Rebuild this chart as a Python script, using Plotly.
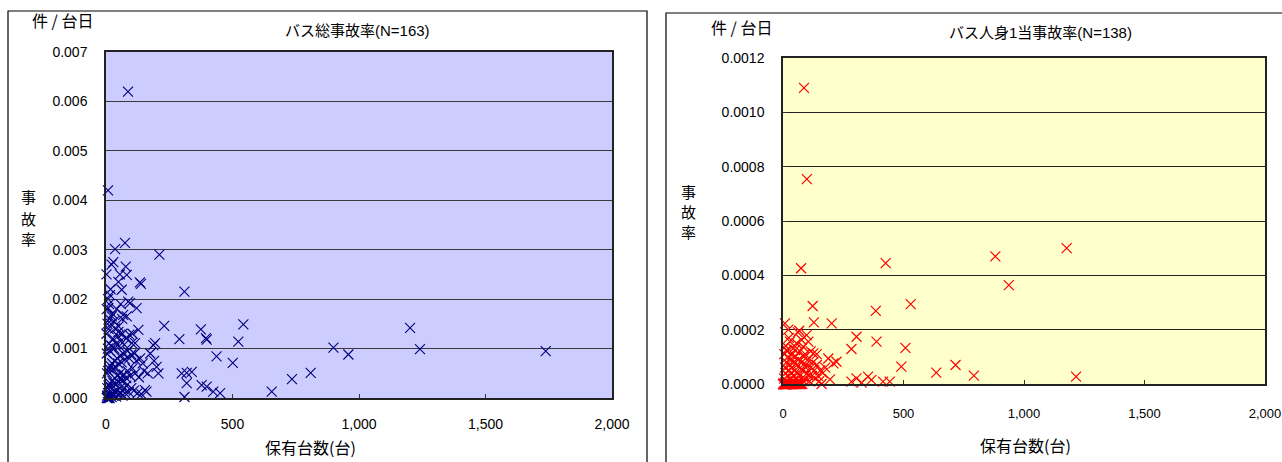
import plotly.graph_objects as go

W, H = 1282, 462

# ---------------- Data ----------------
# Left chart: バス総事故率 (N=163)  x = 保有台数, y = 件/台日
total_x = [
    87, 8, 75, 36, 211, 29, 78, 82, 49, 134, 138, 62, 310, 16, 88, 95, 121, 9, 68, 82,
    23, 230, 375, 543, 36, 49, 128, 395, 398, 290, 523, 102, 115, 194, 187, 437, 501, 200, 207, 299,
    319, 339, 319, 378, 398, 424, 451, 310, 655, 735, 154, 160, 809, 899, 958, 1202, 1241, 1738,
    3, 6, 10, 14, 4, 8, 12, 18, 22, 26, 30, 35, 40, 45, 50, 55, 60, 65, 70, 75, 80, 90, 100, 110, 125, 140,
    5, 10, 15, 20, 25, 30, 35, 40, 45, 50, 55, 60, 65, 70, 80, 85, 95, 105, 115, 130, 150, 165,
    4, 8, 12, 18, 24, 28, 33, 38, 44, 48, 55, 62, 68, 75, 85, 92, 100, 112, 120, 135, 145, 175, 190,
    3, 7, 12, 17, 22, 28, 33, 40, 47, 52, 58, 65, 72, 80, 92, 105,
    2, 6, 10, 14, 20, 26, 32, 42, 50, 58, 64, 3, 8, 12, 18, 2, 22, 55,
]
total_y = [
    0.0062, 0.0042, 0.00314, 0.00301, 0.0029, 0.00275, 0.00266, 0.00249, 0.00235, 0.00234,
    0.00231, 0.00219, 0.00215, 0.00208, 0.00195, 0.00192, 0.00182, 0.00182, 0.00168, 0.00165,
    0.00165, 0.00146, 0.00139, 0.00149, 0.00141, 0.00134, 0.00138, 0.00121, 0.00118, 0.00119,
    0.00114, 0.00111, 0.00111, 0.00111, 0.00107, 0.00084, 0.00071, 0.00063, 0.0005, 0.0005,
    0.00051, 0.00053, 0.0003, 0.00026, 0.00023, 0.00013, 0.0001, 0.00002, 0.00013, 0.00038,
    0.00016, 0.00013, 0.00051, 0.00102, 0.00088, 0.00142, 0.00099, 0.00095,
    0.0, 0.0, 0.0, 0.0, 0.00005, 0.0001, 0.00003, 0.00008, 0.00002, 0.0001, 0.00005, 0.00012, 0.00003,
    0.00015, 0.00008, 0.0002, 0.0001, 0.00005, 0.00018, 0.0001, 0.00025, 0.00012, 0.0002, 0.00015,
    0.0001, 0.00008,
    0.0002, 0.00025, 0.0003, 0.00022, 0.00035, 0.0003, 0.0004, 0.00028, 0.00045, 0.00032, 0.0005,
    0.0004, 0.00035, 0.00048, 0.0004, 0.00055, 0.00045, 0.0006, 0.0005, 0.00042, 0.00055, 0.0005,
    0.0005, 0.00055, 0.0006, 0.00065, 0.0007, 0.00058, 0.00075, 0.00062, 0.0008, 0.0007, 0.00085,
    0.00072, 0.0009, 0.00078, 0.00095, 0.0008, 0.00088, 0.0009, 0.00075, 0.0008, 0.0007, 0.0009, 0.00075,
    0.0009, 0.001, 0.0011, 0.00095, 0.00105, 0.0012, 0.001, 0.0011, 0.00125, 0.00105, 0.00115, 0.0013,
    0.00108, 0.0012, 0.00128, 0.0013,
    0.0013, 0.0015, 0.0014, 0.0016, 0.0015, 0.0017, 0.00155, 0.0018, 0.00145, 0.0019, 0.0016,
    0.0018, 0.002, 0.0019, 0.0022, 0.0025, 0.0027, 0.0025,
]

# Right chart: バス人身1当事故率 (N=138)
injury_x = [
    87, 99, 75, 426, 881, 1177, 937, 530, 508, 491, 636, 716, 792, 1216, 123, 385, 8, 128, 202, 67,
    305, 388, 284, 29, 77, 105, 84, 15, 50, 36, 126, 188, 209, 222, 195, 160, 284, 305, 326, 353,
    367, 415, 443,
    0, 2, 4, 6, 8, 10, 12, 14, 16, 18, 20, 22, 25, 28, 30, 33, 36, 40, 44, 48, 52, 56, 60, 65, 70, 75, 80,
    5, 10, 15, 20, 25, 30, 35, 40, 45, 50, 55, 60, 65, 70, 80, 90, 100, 110, 120, 135, 150, 165,
    8, 14, 20, 26, 32, 38, 45, 52, 58, 64, 72, 78, 86, 95, 104, 115, 125, 140, 155, 175,
    5, 12, 18, 24, 42, 56, 62, 70, 92, 98, 115, 140, 22,
    1, 3, 5, 7, 9, 11, 13, 15, 85, 95, 108, 130, 145,
]
injury_y = [
    0.00109, 0.000754, 0.000426, 0.000445, 0.00047, 0.0005, 0.000364, 0.000294, 0.000133, 0.000064,
    0.000042, 0.00007, 0.000031, 0.000027, 0.000287, 0.000269, 0.000223, 0.000227, 0.000223, 0.000196,
    0.000174, 0.000156, 0.000129, 0.000156, 0.000162, 0.000156, 0.000137, 0.000125, 0.000125, 0.000107,
    0.000113, 0.000094, 0.000076, 0.000082, 0.000017, 0.0, 0.000009, 0.000021, 0.000005, 0.000027,
    0.000015, 0.000009, 0.000009,
    0.0, 0.0, 0.0, 0.0, 0.0, 0.0, 0.0, 0.0, 0.0, 0.0, 0.0, 0.0, 0.0, 0.0, 0.0, 0.0, 0.0, 0.0, 0.0,
    0.0, 0.0, 0.0, 0.0, 0.0, 0.0, 0.0, 0.0,
    0.00002, 0.00004, 0.00001, 0.00003, 0.00005, 0.00002, 0.00004, 0.00001, 0.00003, 0.00005, 0.00002,
    0.00004, 0.00001, 0.00003, 0.00005, 0.00002, 0.00004, 0.00001, 0.00003, 0.00002, 0.00001, 0.00004,
    0.00006, 0.00008, 0.0001, 0.00007, 0.00009, 0.00006, 0.00008, 0.0001, 0.00007, 0.00009, 0.00006,
    0.00008, 0.0001, 0.00007, 0.00009, 0.00006, 0.00008, 0.00007, 0.00005, 0.00006,
    0.00011, 0.00014, 0.00012, 0.00017, 0.00013, 0.00015, 0.00019, 0.00012, 0.00011, 0.00018, 0.00012,
    0.00011, 0.0002,
    0.0, 0.0, 0.0, 0.0, 0.0, 0.0, 0.0, 0.0, 0.00001, 0.00006, 0.00003, 0.00005, 0.00003,
]

left_title = "バス総事故率(N=163)"
right_title = "バス人身1当事故率(N=138)"
y_unit = "件 / 台日"
y_title_chars = ["事", "故", "率"]
x_title = "保有台数(台)"

left_yticks = [0, 0.001, 0.002, 0.003, 0.004, 0.005, 0.006, 0.007]
right_yticks = [0, 0.0002, 0.0004, 0.0006, 0.0008, 0.0010, 0.0012]
xticks = [0, 500, 1000, 1500, 2000]

# ---------------- Figure ----------------
def px(x):
    return x / W

def py(y):
    return 1 - y / H

FONT = "Liberation Sans, Arial, Noto Sans CJK JP, sans-serif"
JFONT = "Noto Sans CJK JP, sans-serif"

fig = go.Figure()
fig.add_trace(go.Scatter(
    x=total_x, y=total_y, mode="markers", xaxis="x", yaxis="y",
    marker=dict(symbol="x-thin-open", size=10, color="#000080",
                line=dict(color="#000080", width=1.1)),
    cliponaxis=False, showlegend=False,
))
fig.add_trace(go.Scatter(
    x=injury_x, y=injury_y, mode="markers", xaxis="x2", yaxis="y2",
    marker=dict(symbol="x-thin-open", size=10, color="#FF0000",
                line=dict(color="#FF0000", width=1.2)),
    cliponaxis=False, showlegend=False,
))

axis_common = dict(
    showline=True, mirror=True, linecolor="#222222", linewidth=1.5,
    ticks="inside", ticklen=4, tickcolor="#333333", zeroline=False,
    automargin=False, ticklabeloverflow="allow",
)
tf14 = dict(family=FONT, size=14, color="#000000")
tf13 = dict(family=FONT, size=13, color="#000000")

fig.update_layout(
    width=W, height=H,
    margin=dict(l=0, r=0, t=0, b=0, pad=0, autoexpand=False),
    paper_bgcolor="white",
    xaxis=dict(domain=[px(106), px(612)], range=[0, 2000], tickvals=xticks,
               tickformat=",d", showgrid=False, anchor="y", ticklabelstandoff=12,
               tickfont=tf14, **axis_common),
    yaxis=dict(domain=[py(398), py(52)], range=[0, 0.007], tickvals=left_yticks,
               tickformat=".3f", showgrid=True, gridcolor="#3a3a3a", gridwidth=1,
               anchor="x", ticklabelstandoff=14, tickfont=tf14, **axis_common),
    xaxis2=dict(domain=[px(783), px(1265)], range=[0, 2000], tickvals=xticks,
                tickformat=",d", showgrid=False, anchor="y2", ticklabelstandoff=17,
                tickfont=tf13, **axis_common),
    yaxis2=dict(domain=[py(384), py(58)], range=[0, 0.0012], tickvals=right_yticks,
                tickformat=".4f", showgrid=True, gridcolor="#222222", gridwidth=1,
                anchor="x2", ticklabelstandoff=14, tickfont=tf14, **axis_common),
    plot_bgcolor="#CCCCFF",
)

# right plot background (yellow) via a shape below the data
fig.add_shape(type="rect", xref="x2 domain", yref="y2 domain", x0=0, x1=1, y0=0, y1=1,
              fillcolor="#FFFFCC", line=dict(width=0), layer="below")

# outer chart frames
fig.add_shape(type="rect", xref="paper", yref="paper", x0=px(8), x1=px(647),
              y0=py(470), y1=py(11), line=dict(color="#000000", width=1.2),
              fillcolor="rgba(0,0,0,0)", layer="below")
fig.add_shape(type="rect", xref="paper", yref="paper", x0=px(666), x1=px(1295),
              y0=py(470), y1=py(13), line=dict(color="#000000", width=1.2),
              fillcolor="rgba(0,0,0,0)", layer="below")

def ann(text, x, y, size, family=JFONT):
    fig.add_annotation(text=text, x=px(x), y=py(y), xref="paper", yref="paper",
                       showarrow=False, xanchor="center", yanchor="middle",
                       font=dict(family=family, size=size, color="#000000"))

ann(left_title, 357, 30, 15, FONT)
ann(right_title, 1040, 33, 15, FONT)
ann(y_unit, 62, 20, 16)
ann(y_unit, 741, 27, 16)
for i, ch in enumerate(y_title_chars):
    ann(ch, 28, 197 + 21 * i, 15)
    ann(ch, 689, 191 + 20 * i, 15)
ann(x_title, 310, 447, 16)
ann(x_title, 1025, 445, 16)

fig.write_html("out.html", post_script="document.body.style.margin='0';",
               config={"displayModeBar": False})
